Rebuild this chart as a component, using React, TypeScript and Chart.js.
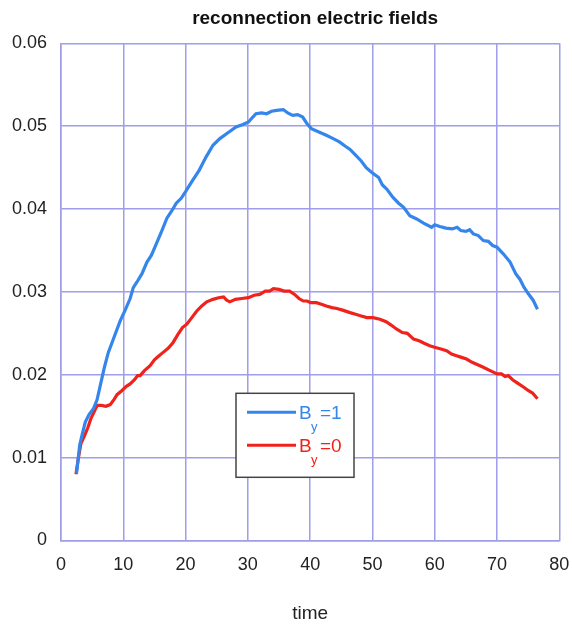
import React, { useEffect, useRef } from "react";
import { Chart, registerables } from "chart.js";

Chart.register(...registerables);

const titleText = "reconnection electric fields";
const xAxisTitle = "time";

const xTickValues = [0, 10, 20, 30, 40, 50, 60, 70, 80];
const yTickValues = [0, 0.01, 0.02, 0.03, 0.04, 0.05, 0.06];

const legendBase = ["B", "B"];
const legendSub = ["y", "y"];
const legendTail = ["=1", "=0"];

const blueTime = [
  2.5, 3.0, 3.4, 3.9, 4.5, 5.2, 5.8, 6.3, 7.0, 7.6, 8.5, 9.5, 10.3, 11.1, 11.6, 12.2,
  13.0, 13.8, 14.5, 15.3, 16.2, 17.0, 17.8, 18.5, 19.3, 20.0, 21.0, 22.2, 23.3, 24.4,
  25.5, 26.8, 28.1, 29.2, 30.1, 30.8, 31.3, 32.2, 33.0, 33.8, 34.6, 35.7, 36.4, 37.2,
  38.0, 38.8, 39.5, 40.2, 41.4, 42.6, 43.7, 44.7, 45.6, 46.4, 47.3, 48.2, 49.0, 49.9,
  51.0, 51.6, 52.3, 53.3, 54.2, 55.0, 56.0, 57.1, 58.2, 59.5, 60.0, 60.8, 61.8, 62.8,
  63.6, 64.2, 65.0, 65.6, 66.2, 67.0, 67.8, 68.6, 69.3, 70.0, 71.0, 72.1, 73.0, 73.7,
  74.3, 75.0, 75.8, 76.5,
];
const blueE = [
  0.0081, 0.0115, 0.0128, 0.0143, 0.0152, 0.0159, 0.017, 0.0187, 0.021, 0.0227, 0.0245,
  0.0265, 0.0278, 0.0292, 0.0305, 0.0312, 0.0322, 0.0336, 0.0344, 0.0358, 0.0374, 0.0389,
  0.0398, 0.0407, 0.0413, 0.0421, 0.0433, 0.0447, 0.0463, 0.0477, 0.0485, 0.0492, 0.0499,
  0.0502, 0.0505, 0.0511, 0.0515, 0.0516, 0.0515, 0.0518, 0.0519, 0.052, 0.0516, 0.0513,
  0.0514, 0.0511, 0.0503, 0.0497, 0.0493, 0.0489, 0.0485, 0.0481, 0.0476, 0.0472, 0.0465,
  0.0458, 0.045, 0.0444, 0.0438, 0.0429, 0.0424, 0.0414, 0.0407, 0.0402, 0.0392, 0.0388,
  0.0383, 0.0378, 0.0381, 0.0379, 0.0377, 0.0376, 0.0378, 0.0374, 0.0373, 0.0375, 0.037,
  0.0368, 0.0362, 0.0361, 0.0356, 0.0354, 0.0346, 0.0336, 0.0322, 0.0315, 0.0306, 0.0298,
  0.029, 0.0279,
];

const redTime = [
  2.4, 2.8, 3.2, 3.8, 4.3, 4.8, 5.3, 5.8, 6.5, 7.2, 7.9, 8.5, 9.0, 9.8, 10.5, 11.1, 11.8,
  12.3, 12.7, 13.4, 14.3, 15.0, 15.6, 16.4, 17.2, 18.0, 18.8, 19.5, 20.2, 21.0, 21.8,
  22.6, 23.4, 24.4, 25.3, 26.1, 26.6, 27.1, 28.0, 29.0, 30.1, 31.0, 31.9, 32.8, 33.5,
  34.1, 35.0, 35.8, 36.7, 37.5, 38.2, 38.9, 39.5, 40.1, 41.0, 41.8, 42.6, 43.5, 44.3,
  45.2, 46.4, 47.3, 48.2, 49.1, 50.1, 51.2, 52.2, 53.0, 53.9, 54.8, 55.6, 56.6, 57.5,
  58.3, 59.2, 60.1, 61.0, 61.9, 62.7, 63.5, 64.3, 65.1, 66.0, 66.9, 67.8, 68.9, 70.0,
  70.7, 71.3, 71.8, 72.5, 73.3, 74.3, 75.0, 75.7, 76.5,
];
const redE = [
  0.008, 0.01, 0.0117, 0.0127, 0.0136, 0.0147, 0.0155, 0.0163, 0.0163, 0.0162, 0.0164,
  0.017, 0.0176, 0.0181, 0.0186, 0.0189, 0.0194, 0.0199, 0.0199, 0.0205, 0.0211, 0.0218,
  0.0222, 0.0227, 0.0232, 0.0239, 0.0249, 0.0257, 0.0261, 0.0269, 0.0277, 0.0283, 0.0288,
  0.0291, 0.0293, 0.0294, 0.029, 0.0288, 0.0291, 0.0292, 0.0293, 0.0296, 0.0297, 0.0301,
  0.0301, 0.0304, 0.0303, 0.0301, 0.0301, 0.0297, 0.0292, 0.0289, 0.0289, 0.0287, 0.0287,
  0.0285, 0.0283, 0.0281, 0.028, 0.0278, 0.0275, 0.0273, 0.0271, 0.0269, 0.0269, 0.0267,
  0.0264, 0.026, 0.0255, 0.0251, 0.025, 0.0243, 0.0241, 0.0238, 0.0235, 0.0233, 0.0231,
  0.0229, 0.0225, 0.0223, 0.0221, 0.0219, 0.0215, 0.0212, 0.0209, 0.0205, 0.0201, 0.0201,
  0.0198, 0.0199, 0.0194, 0.019, 0.0185, 0.0181, 0.0178, 0.0171,
];

const BLUE = "#3586ec";
const RED = "#f0231c";
const GRID = "#9e9ee9";
const FONT = "'Liberation Sans', Arial, Helvetica, sans-serif";

const overlayPlugin = {
  id: "overlay",
  afterDraw(chart: any) {
    const { ctx, chartArea } = chart;
    const cx = (chartArea.left + chartArea.right) / 2;
    ctx.save();
    // title
    ctx.fillStyle = "#111";
    ctx.font = `bold 19px ${FONT}`;
    ctx.textAlign = "center";
    ctx.textBaseline = "middle";
    ctx.fillText(titleText, cx + 5, 19);
    // x-axis title
    ctx.font = `19px ${FONT}`;
    ctx.fillStyle = "#222";
    ctx.fillText(xAxisTitle, cx, 614);

    // legend box
    const bx = chartArea.left + 175;
    const by = chartArea.top + 350;
    const bw = 118;
    const bh = 84;
    ctx.fillStyle = "#ffffff";
    ctx.fillRect(bx, by, bw, bh);
    ctx.strokeStyle = "#444";
    ctx.lineWidth = 1.5;
    ctx.strokeRect(bx, by, bw, bh);
    const colors = [BLUE, RED];
    const rowY = [by + 19, by + 52];
    ctx.textAlign = "left";
    for (let i = 0; i < 2; i++) {
      ctx.strokeStyle = colors[i];
      ctx.lineWidth = 3;
      ctx.beginPath();
      ctx.moveTo(bx + 11, rowY[i]);
      ctx.lineTo(bx + 60, rowY[i]);
      ctx.stroke();
      ctx.fillStyle = colors[i];
      ctx.textBaseline = "middle";
      ctx.font = `19px ${FONT}`;
      ctx.fillText(legendBase[i], bx + 63, rowY[i] + 1);
      ctx.font = `13px ${FONT}`;
      ctx.fillText(legendSub[i], bx + 75, rowY[i] + 15);
      ctx.font = `19px ${FONT}`;
      ctx.fillText(legendTail[i], bx + 84, rowY[i] + 1);
    }
    ctx.restore();
  },
};

export default function App() {
  const ref = useRef<HTMLCanvasElement>(null);
  useEffect(() => {
    document.body.style.margin = "0";
    const canvas = ref.current;
    if (!canvas) return;
    const chart = new Chart(canvas, {
      type: "line",
      data: {
        datasets: [
          {
            label: "By=1",
            data: blueTime.map((t, i) => ({ x: t, y: blueE[i] })),
            borderColor: BLUE,
            borderWidth: 3.2,
            pointRadius: 0,
            tension: 0,
            fill: false,
          },
          {
            label: "By=0",
            data: redTime.map((t, i) => ({ x: t, y: redE[i] })),
            borderColor: RED,
            borderWidth: 3.2,
            pointRadius: 0,
            tension: 0,
            fill: false,
          },
        ],
      },
      options: {
        responsive: false,
        animation: false,
        devicePixelRatio: 1,
        layout: { padding: { top: 43.3, right: 12.7, left: 0, bottom: 0 } },
        plugins: {
          legend: { display: false },
          title: { display: false },
          tooltip: { enabled: false },
        },
        scales: {
          x: {
            type: "linear",
            min: 0,
            max: 80,
            afterBuildTicks: (scale: any) => {
              scale.ticks = xTickValues.map((v) => ({ value: v }));
            },
            afterFit: (scale: any) => {
              scale.height = 85.5;
              scale.paddingLeft = 0;
              scale.paddingRight = 0;
            },
            grid: { color: GRID, lineWidth: 1.5, drawTicks: false },
            border: { color: GRID, width: 1.5 },
            ticks: {
              padding: 14,
              color: "#222",
              font: { family: FONT, size: 18 },
              maxRotation: 0,
              callback: (v: any) => String(v),
            },
          },
          y: {
            type: "linear",
            min: 0,
            max: 0.06,
            afterBuildTicks: (scale: any) => {
              scale.ticks = yTickValues.map((v) => ({ value: v }));
            },
            afterFit: (scale: any) => {
              scale.width = 61;
              scale.paddingTop = 0;
              scale.paddingBottom = 0;
            },
            grid: { color: GRID, lineWidth: 1.5, drawTicks: false },
            border: { color: GRID, width: 1.5 },
            ticks: {
              padding: 14,
              color: "#222",
              font: { family: FONT, size: 18 },
              callback: (v: any) => (v === 0 ? "0" : Number(v).toFixed(2)),
            },
          },
        },
      },
      plugins: [overlayPlugin],
    });
    return () => chart.destroy();
  }, []);

  return (
    <div style={{ position: "absolute", left: 0, top: 0, width: 572, height: 626, background: "#fff" }}>
      <canvas ref={ref} width={572} height={626} style={{ width: 572, height: 626 }} />
    </div>
  );
}
